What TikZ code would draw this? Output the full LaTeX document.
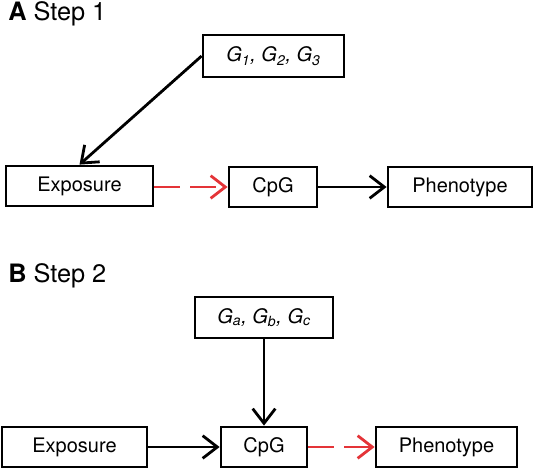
\documentclass[tikz,border=0pt]{standalone}
\usepackage{fontspec}
\setmainfont{TeX Gyre Heros}
\usetikzlibrary{arrows.meta}

\definecolor{dashred}{RGB}{228,52,56}

\tikzset{
  box/.style={draw, line width=2.1pt, inner sep=0pt, font=\fontsize{15}{18}\selectfont},
  link/.style={line width=2.1pt, -{Straight Barb[length=11pt,width=17pt,line width=2.1pt]}},
  redlink/.style={link, dashred, dash pattern=on 19pt off 8pt},
  paneltitle/.style={anchor=base west, inner sep=0pt, font=\fontsize{19}{22}\selectfont}
}

\begin{document}
\begin{tikzpicture}[x=0.75pt,y=-0.75pt]
\useasboundingbox (0,0) rectangle (534,471);

\node[paneltitle] (titleA) at (8,20) {\textbf{A} Step 1};
\node[paneltitle] (titleB) at (8,282) {\textbf{B} Step 2};

% Step 1
\node[box, minimum width=105.75pt, minimum height=31.5pt] (gA) at (273.5,56) {\itshape G\textsubscript{1}, G\textsubscript{2}, G\textsubscript{3}};
\node[box, minimum width=110.25pt, minimum height=30pt] (expA) at (79.5,186) {Exposure};
\node[box, minimum width=66pt, minimum height=30pt] (cpgA) at (273,187) {CpG};
\node[box, minimum width=108pt, minimum height=30pt] (phenA) at (460,187) {Phenotype};

\draw[link] (gA.west) -- (expA.north);
\draw[redlink] (expA.east |- cpgA.west) -- (cpgA.west);
\draw[link] (cpgA.east) -- (phenA.west);

% Step 2
\node[box, minimum width=103.5pt, minimum height=30.75pt] (gB) at (264,317.5) {\itshape G\textsubscript{a}, G\textsubscript{b}, G\textsubscript{c}};
\node[box, minimum width=108.75pt, minimum height=30pt] (expB) at (74.5,447) {Exposure};
\node[box, minimum width=64.5pt, minimum height=30pt] (cpgB) at (264,447) {CpG};
\node[box, minimum width=105.75pt, minimum height=30pt] (phenB) at (446.5,447) {Phenotype};

\draw[link] (gB.south) -- (cpgB.north);
\draw[link] (expB.east) -- (cpgB.west);
\draw[redlink] (cpgB.east) -- (phenB.west);

\end{tikzpicture}
\end{document}
